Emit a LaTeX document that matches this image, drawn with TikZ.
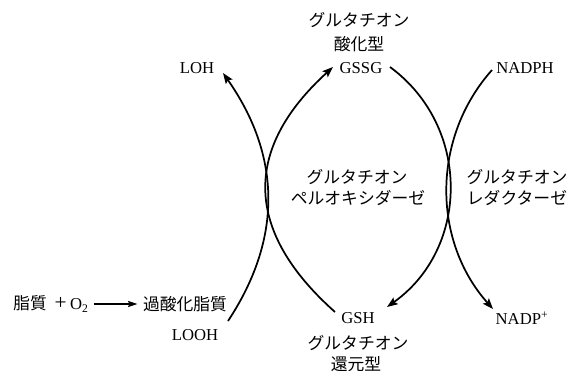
\documentclass[tikz,border=0pt]{standalone}
\usepackage{fontspec}
\setmainfont{Liberation Serif}
\newfontfamily\jp{Noto Sans CJK JP}
\usetikzlibrary{arrows.meta}
\begin{document}
\begin{tikzpicture}[x=0.75pt,y=-0.75pt,
  lbl/.style={inner sep=0pt,anchor=center,font=\fontsize{12.5}{14}\selectfont},
  jlbl/.style={inner sep=0pt,anchor=center,font=\fontsize{12.6}{14}\selectfont\jp},
  curve/.style={line width=1.3pt,-{Stealth[length=8pt,width=6pt,inset=1.5pt]}},
  small/.style={line width=0.9pt,-{Stealth[length=7pt,width=4.5pt,inset=1pt]}}]
\useasboundingbox (0,0) rectangle (571,371);
\fill[white] (0,0) rectangle (571,371);
% labels
\node[jlbl] (gtop) at (359,20) {グルタチオン};
\node[jlbl] (ox) at (359,44) {酸化型};
\node[lbl] (GSSG) at (361,68) {GSSG};
\node[lbl] (LOH) at (197,68) {LOH};
\node[lbl] (NADPH) at (525,68) {NADPH};
\node[jlbl] (gpx1) at (357,177) {グルタチオン};
\node[jlbl] (gpx2) at (358,198) {ペルオキシダーゼ};
\node[jlbl] (gr1) at (517,177) {グルタチオン};
\node[jlbl] (gr2) at (517,198) {レダクターゼ};
\node[lbl] (lipid) at (51,304) {{\jp 脂質}\hspace{6pt}{\fontsize{16}{14}\selectfont +}\hspace{2.5pt}O\textsubscript{2}};
\node[jlbl] (perox) at (185,304) {過酸化脂質};
\node[lbl] (LOOH) at (195,335) {LOOH};
\node[lbl] (GSH) at (358,318) {GSH};
\node[jlbl] (gbot) at (358,343) {グルタチオン};
\node[jlbl] (red) at (356,364) {還元型};
\node[lbl] (NADP) at (522,318) {NADP\textsuperscript{+}};
% curve end points
\coordinate (c1s) at (228,321);
\coordinate (c1e) at (223,73);
\coordinate (c2s) at (335,312);
\coordinate (c2e) at (333,67);
\coordinate (c3s) at (390,67);
\coordinate (c3e) at (387,307);
\coordinate (c4s) at (492,70);
\coordinate (c4e) at (493,309);
% connectors
\draw[curve] (c1s) .. controls (282.7,238.3) and (281,155.7) .. (c1e);
\draw[curve] (c2s) .. controls (243.7,230.7) and (243,149) .. (c2e);
\draw[curve] (c3s) .. controls (471.4,126.8) and (469.4,248.6) .. (c3e);
\draw[curve] (c4s) .. controls (431.3,138.1) and (432.3,240.9) .. (c4e);
\draw[small] ([xshift=3.5pt]lipid.east) -- ([xshift=-4pt]perox.west);
\end{tikzpicture}
\end{document}
